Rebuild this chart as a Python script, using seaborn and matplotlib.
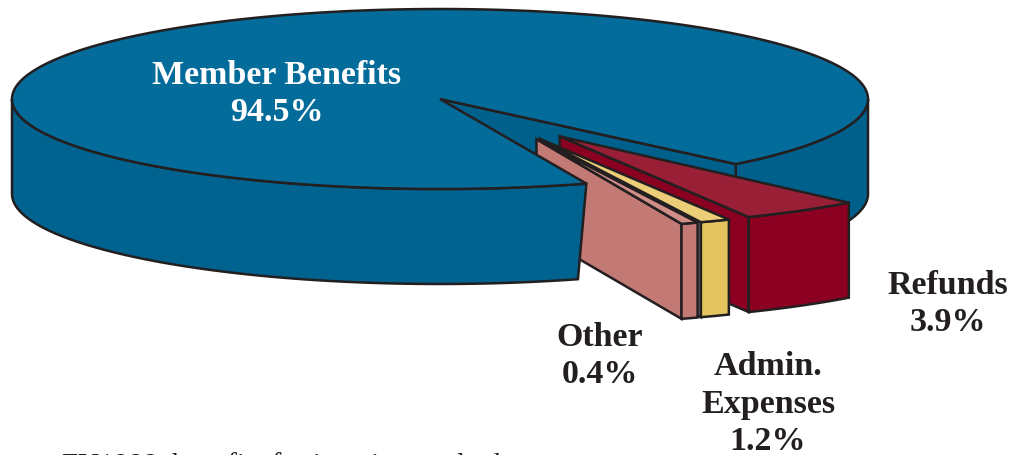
import numpy as np
import seaborn as sns
import matplotlib.pyplot as plt
from matplotlib.patches import Polygon

# values
labels = ['Member Benefits', 'Refunds', 'Admin.\nExpenses', 'Other']
shares = [94.5, 3.9, 1.2, 0.4]

sns.set_theme(style='white')
plt.rcParams['font.family'] = ['Liberation Serif', 'DejaVu Serif']

LINE = '#231f20'
top_colors = ['#036c9b', '#981f36', '#eccd78', '#d18e88']
front_colors = ['#00628f', '#8b0021', '#e4c45e', '#c37a75']
side_colors = ['#00608c', '#8b0021', '#8b8d91', '#c37a75']

# ellipse of the pie in pixels
CX, CY, RX, RY = 440, 99, 428, 90
DEPTH = 95
EXPLODE = 0.5
START = 47.5                       # where the pulled out slices begin
BLUE_START = 70
stretch = [0.9885, 1.16, 0.95, 1.6]  # the drawing is not quite true to scale
explode_dir = [56, 62.2, 63.2]


def arc(a0, a1, ox=0.0, oy=0.0, drop=0, n=80):
    t = np.radians(np.linspace(a0, a1, n))
    return np.column_stack([CX + (ox + np.cos(t)) * RX,
                            CY + (oy + np.sin(t)) * RY + drop])


def poly(ax, pts, color, z):
    ax.add_patch(Polygon(pts, closed=True, facecolor=color, edgecolor=LINE,
                         lw=1.8, joinstyle='miter', zorder=z))


fig, ax = plt.subplots(figsize=(10.24, 4.55), dpi=100)
fig.subplots_adjust(0, 0, 1, 1)
ax.set_xlim(0, 1024)
ax.set_ylim(455, 0)
ax.axis('off')

blue_span = shares[0] * 3.6 * stretch[0]
blue_end = BLUE_START + blue_span

# wall on the right and the cut face, behind everything
right_wall = np.vstack([arc(0, blue_end - 360), arc(0, blue_end - 360, drop=DEPTH)[::-1]])
poly(ax, right_wall, side_colors[0], 1)
end_pt = arc(blue_end, blue_end, n=1)[0]
cut = [(CX, CY), end_pt, end_pt + [0, DEPTH], (CX, CY + DEPTH)]
poly(ax, cut, side_colors[0], 2)

# pulled out slices
a = START
for i in range(1, 4):
    span = shares[i] * 3.6 * stretch[i]
    a0, a1 = a, a + span
    d = np.radians(explode_dir[i - 1])
    ox, oy = EXPLODE * np.cos(d), EXPLODE * np.sin(d)
    apex = np.array([CX + ox * RX, CY + oy * RY])
    top = arc(a0, a1, ox, oy, n=12)
    bottom = arc(a0, a1, ox, oy, drop=DEPTH, n=12)
    z = 3 + i
    # left cut face
    left_face = [apex, top[-1], bottom[-1], apex + [0, DEPTH]]
    poly(ax, left_face, side_colors[i], z)
    poly(ax, np.vstack([top, bottom[::-1]]), front_colors[i], z + 0.1)
    poly(ax, np.vstack([[apex], top]), top_colors[i], z + 0.2)
    a = a1

# main body on top of the slices, its cut edge leans in a little at the bottom
front = np.vstack([arc(BLUE_START, 180), arc(BLUE_START + 1.2, 180, drop=DEPTH)[::-1]])
poly(ax, front, front_colors[0], 10)
disc = np.vstack([[(CX, CY)], arc(BLUE_START, blue_end, n=300)])
poly(ax, disc, top_colors[0], 11)

ax.text(277, 94, f'{labels[0]}\n{shares[0]}%', color='white', fontsize=24.5,
        fontweight='bold', ha='center', va='center', linespacing=1.27, zorder=12)
ax.text(948, 304, f'{labels[1]}\n{shares[1]}%', color=LINE, fontsize=24.5,
        fontweight='bold', ha='center', va='center', linespacing=1.27, zorder=12)
ax.text(768, 404, f'{labels[2]}\n{shares[2]}%', color=LINE, fontsize=24.5,
        fontweight='bold', ha='center', va='center', linespacing=1.27, zorder=12)
ax.text(600, 356, f'{labels[3]}\n{shares[3]}%', color=LINE, fontsize=24.5,
        fontweight='bold', ha='center', va='center', linespacing=1.27, zorder=12)
# caption cut off by the lower edge of the picture
ax.text(62, 452, 'FY1988  benefits for inpatient and other', color=LINE, fontsize=21,
        ha='left', va='top', zorder=12)

fig.savefig('out.png', dpi=100)
